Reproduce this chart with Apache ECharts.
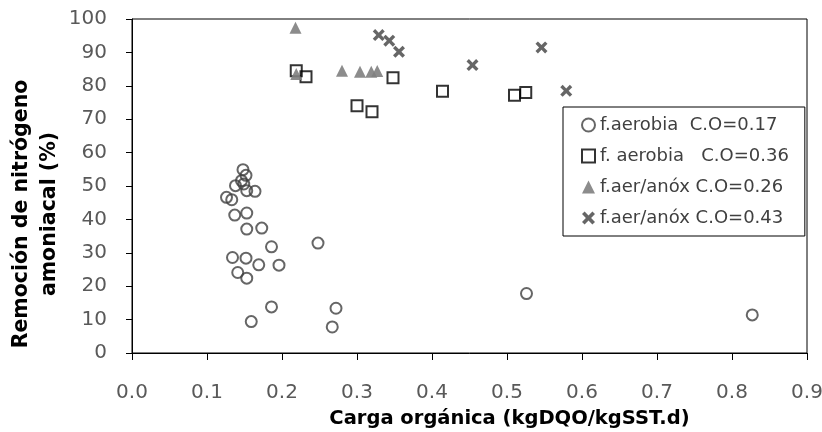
<!DOCTYPE html>
<html><head><meta charset="utf-8">
<script src="https://cdn.jsdelivr.net/npm/echarts@6/dist/echarts.min.js"></script>
<style>html,body{margin:0;padding:0;background:#fff}#c{width:822px;height:432px}</style>
</head><body><div id="c"></div>
<script>
const seriesNames = ['f.aerobia  C.O=0.17', 'f. aerobia   C.O=0.36', 'f.aer/anóx C.O=0.26', 'f.aer/anóx C.O=0.43'];
const aerobia017 = [[0.148,54.9],[0.152,53.2],[0.146,51.6],[0.149,50.6],[0.138,50.1],[0.153,48.6],[0.164,48.4],[0.126,46.6],[0.133,45.9],[0.137,41.3],[0.153,41.9],[0.153,37.1],[0.173,37.4],[0.186,31.8],[0.248,32.9],[0.134,28.6],[0.152,28.4],[0.169,26.4],[0.196,26.3],[0.141,24.1],[0.153,22.4],[0.186,13.8],[0.272,13.4],[0.159,9.4],[0.267,7.8],[0.526,17.8],[0.827,11.4]];
const aerobia036 = [[0.219,84.5],[0.232,82.7],[0.348,82.4],[0.300,74.0],[0.320,72.2],[0.414,78.4],[0.510,77.2],[0.525,78.0]];
const anox026 = [[0.218,97.4],[0.219,83.5],[0.280,84.5],[0.304,84.2],[0.319,84.2],[0.327,84.4]];
const anox043 = [[0.329,95.2],[0.343,93.5],[0.356,90.2],[0.454,86.2],[0.546,91.5],[0.579,78.5]];
const xTitle = 'Carga orgánica (kgDQO/kgSST.d)';
const yTitle = 'Remoción de nitrógeno\namoniacal (%)';

const FONT = 'DejaVu Sans';
const crossPath = 'path://M0,2 L2,0 L5,3 L8,0 L10,2 L7,5 L10,8 L8,10 L5,7 L2,10 L0,8 L3,5 Z';
const chart = echarts.init(document.getElementById('c'));
chart.setOption({
  animation: false,
  backgroundColor: '#fff',
  grid: {left: 132, right: 15, top: 19, bottom: 79, show: true, borderColor: '#000', borderWidth: 1, containLabel: false, outerBoundsMode: 'none'},
  xAxis: {
    type: 'value', min: 0, max: 0.9, interval: 0.1,
    axisLine: {show: true, lineStyle: {color: '#000', width: 1}},
    axisTick: {show: true, length: 7, lineStyle: {color: '#000'}},
    splitLine: {show: false},
    axisLabel: {formatter: v => v.toFixed(1), color: '#595959', fontSize: 20, fontFamily: FONT, margin: 30},
    name: xTitle, nameLocation: 'middle', nameGap: 56, nameMoveOverlap: false,
    nameTextStyle: {fontSize: 19.5, fontWeight: 'bold', color: '#000', fontFamily: FONT, padding: [0, 0, 0, 80]}
  },
  yAxis: {
    type: 'value', min: 0, max: 100, interval: 10,
    axisLine: {show: true, lineStyle: {color: '#000', width: 1}},
    axisTick: {show: true, length: 6, lineStyle: {color: '#000'}},
    splitLine: {show: false},
    axisLabel: {color: '#595959', fontSize: 20, fontFamily: FONT, margin: 25},
    name: yTitle, nameLocation: 'middle', nameGap: 68, nameRotate: 90, nameMoveOverlap: false,
    nameTextStyle: {fontSize: 20.5, fontWeight: 'bold', color: '#000', fontFamily: FONT, lineHeight: 28, padding: [0, 56, 0, 0]}
  },
  legend: {
    orient: 'vertical', left: 563, top: 107,
    padding: [9, 16, 9, 18],
    itemWidth: 13, itemHeight: 13, itemGap: 13, itemTextGap: 4,
    backgroundColor: '#fff', borderColor: '#000', borderWidth: 1,
    textStyle: {fontSize: 18, color: '#404040', fontFamily: FONT},
    data: seriesNames
  },
  series: [
    {name: seriesNames[0], type: 'scatter', data: aerobia017, symbol: 'circle', symbolSize: 11,
     itemStyle: {color: 'rgba(255,255,255,0)', borderColor: '#404040', borderWidth: 2}},
    {name: seriesNames[1], type: 'scatter', data: aerobia036, symbol: 'rect', symbolSize: 11,
     itemStyle: {color: 'rgba(255,255,255,0)', borderColor: '#000', borderWidth: 2}},
    {name: seriesNames[2], type: 'scatter', data: anox026, symbol: 'triangle', symbolSize: 12,
     itemStyle: {color: '#7f7f7f', opacity: 0.9}},
    {name: seriesNames[3], type: 'scatter', data: anox043, symbol: crossPath, symbolSize: 12,
     itemStyle: {color: '#404040'}}
  ]
});
</script></body></html>
